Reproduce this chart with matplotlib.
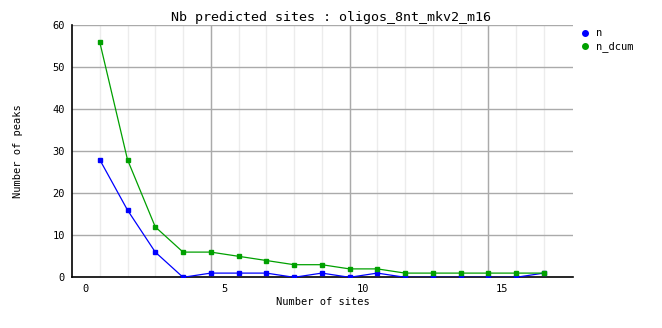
import matplotlib
matplotlib.use("Agg")
import matplotlib.pyplot as plt
from matplotlib.lines import Line2D

sites = [0.5, 1.5, 2.5, 3.5, 4.5, 5.5, 6.5, 7.5, 8.5, 9.5, 10.5, 11.5, 12.5, 13.5, 14.5, 15.5, 16.5]
n = [28, 16, 6, 0, 1, 1, 1, 0, 1, 0, 1, 0, 0, 0, 0, 0, 1]
n_dcum = [56, 28, 12, 6, 6, 5, 4, 3, 3, 2, 2, 1, 1, 1, 1, 1, 1]
xticks = [0, 5, 10, 15]
xgrid_major = [4.5, 9.5, 14.5]
yticks = [0, 10, 20, 30, 40, 50, 60]

BLUE = "#0000ff"
GREEN = "#00a000"
FONT = "DejaVu Sans Mono"

fig = plt.figure(figsize=(6.62, 3.28), dpi=100)
ax = fig.add_axes([72/662, 1-277.3/328, (573-72)/662, (277.3-25.3)/328])

# grids
for x in sites:
    ax.axvline(x, color="#ececec", lw=1, zorder=0)
for x in xgrid_major:
    ax.axvline(x, color="#aaaaaa", lw=1, zorder=1)
for y in yticks[1:]:
    ax.axhline(y, color="#aaaaaa", lw=1, zorder=1)

ax.plot(sites, n, color=BLUE, lw=0.9, marker="s", ms=2.6, zorder=3)
ax.plot(sites, n_dcum, color=GREEN, lw=0.9, marker="s", ms=2.6, zorder=3)

ax.set_xlim(-0.5, 17.55)
ax.set_ylim(0, 60)
ax.set_xticks(xticks)
ax.set_yticks(yticks)
ax.tick_params(length=0, labelsize=7.5, pad=5)
for lab in ax.get_xticklabels() + ax.get_yticklabels():
    lab.set_fontfamily(FONT)
for s in ["top", "right"]:
    ax.spines[s].set_visible(False)
ax.spines["left"].set_color("black")
ax.spines["bottom"].set_color("black")
ax.spines["left"].set_linewidth(1.2)
ax.spines["bottom"].set_linewidth(1.2)

ax.set_xlabel("Number of sites", fontfamily=FONT, fontsize=7.5)
ax.set_ylabel("Number of peaks", fontfamily=FONT, fontsize=7.5)
ax.xaxis.set_label_coords(0.5, -(302-277.3)/252)
ax.yaxis.set_label_coords((18-72)/501, 0.5)
ax.xaxis.label.set_va("center")
ax.yaxis.label.set_va("center")
fig.text(331/662, 1-18/328, "Nb predicted sites : oligos_8nt_mkv2_m16",
         ha="center", va="center", fontfamily=FONT, fontsize=9.6)

handles = [Line2D([], [], ls="none", marker="o", ms=4, color=BLUE),
           Line2D([], [], ls="none", marker="o", ms=4, color=GREEN)]
leg = fig.legend(handles, ["n", "n_dcum"], loc="upper left",
                 bbox_to_anchor=(577/662, 1-24/328), frameon=False,
                 prop={"family": FONT, "size": 7.5}, handlelength=0.8,
                 handletextpad=0.6, labelspacing=0.3, borderaxespad=0)

fig.savefig("out.png", dpi=100)
